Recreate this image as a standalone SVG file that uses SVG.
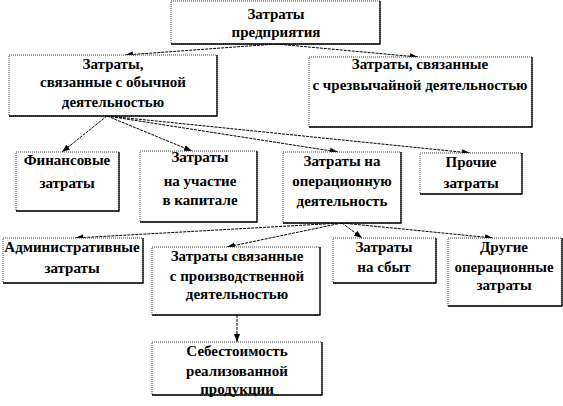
<svg xmlns="http://www.w3.org/2000/svg" width="563" height="406" viewBox="0 0 563 406">
<style>
.bx{fill:#fff;stroke:#444;stroke-width:1;stroke-dasharray:1 1}
.sh{fill:none;stroke:#000;stroke-width:1.3}
.t{font-weight:bold;font-size:15px;fill:#000;text-anchor:middle}
.c{fill:none;stroke:#000;stroke-width:1;stroke-dasharray:3 1}
</style>
<defs>
<marker id="ah" markerUnits="userSpaceOnUse" markerWidth="9" markerHeight="7" refX="8" refY="3" orient="auto">
<path d="M0,0 L8,3 L0,6 z" fill="#000"/>
</marker>
</defs>
<rect width="563" height="406" fill="#fff"/>
<g id="connectors">
<line class="c" x1="276" y1="44" x2="125" y2="55" marker-end="url(#ah)"/>
<line class="c" x1="276" y1="44" x2="418" y2="57" marker-end="url(#ah)"/>
<line class="c" x1="107" y1="116" x2="62" y2="152" marker-end="url(#ah)"/>
<line class="c" x1="107" y1="116" x2="192" y2="151" marker-end="url(#ah)"/>
<line class="c" x1="107" y1="116" x2="338" y2="152" marker-end="url(#ah)"/>
<line class="c" x1="107" y1="116" x2="470" y2="153" marker-end="url(#ah)"/>
<line class="c" x1="342" y1="223" x2="75" y2="238" marker-end="url(#ah)"/>
<line class="c" x1="342" y1="223" x2="227" y2="247" marker-end="url(#ah)"/>
<line class="c" x1="342" y1="223" x2="362" y2="238" marker-end="url(#ah)"/>
<line class="c" x1="342" y1="223" x2="493" y2="238" marker-end="url(#ah)"/>
<line class="c" x1="237" y1="315" x2="237" y2="342" marker-end="url(#ah)"/>
</g>
<g font-family="'Liberation Serif', 'DejaVu Serif', serif">
<g id="n1">
<rect class="bx" x="171" y="1" width="209" height="43"/>
<polyline class="sh" points="380,1 380,44 171,44"/>
<text class="t" x="276" y="19">Затраты</text>
<text class="t" x="276" y="37">предприятия</text>
</g>
<g id="n2">
<rect class="bx" x="9" y="55" width="208" height="61"/>
<polyline class="sh" points="217,55 217,116 9,116"/>
<text class="t" x="113" y="69">Затраты,</text>
<text class="t" x="113" y="87">связанные с обычной</text>
<text class="t" x="113" y="107">деятельностью</text>
</g>
<g id="n3">
<rect class="bx" x="309" y="57" width="223" height="70"/>
<polyline class="sh" points="532,57 532,127 309,127"/>
<text class="t" x="420" y="69">Затраты, связанные</text>
<text class="t" x="420" y="90">с чрезвычайной деятельностью</text>
</g>
<g id="n4">
<rect class="bx" x="16" y="152" width="103" height="59"/>
<polyline class="sh" points="119,152 119,211 16,211"/>
<text class="t" x="67" y="165">Финансовые</text>
<text class="t" x="67" y="188">затраты</text>
</g>
<g id="n5">
<rect class="bx" x="140" y="151" width="117" height="71"/>
<polyline class="sh" points="257,151 257,222 140,222"/>
<text class="t" x="200" y="162">Затраты</text>
<text class="t" x="200" y="186">на участие</text>
<text class="t" x="200" y="205">в капитале</text>
</g>
<g id="n6">
<rect class="bx" x="283" y="152" width="118" height="71"/>
<polyline class="sh" points="401,152 401,223 283,223"/>
<text class="t" x="342" y="166">Затраты на</text>
<text class="t" x="342" y="186">операционную</text>
<text class="t" x="342" y="206">деятельность</text>
</g>
<g id="n7">
<rect class="bx" x="420" y="153" width="102" height="41"/>
<polyline class="sh" points="522,153 522,194 420,194"/>
<text class="t" x="471" y="167">Прочие</text>
<text class="t" x="471" y="188">затраты</text>
</g>
<g id="n8">
<rect class="bx" x="3" y="238" width="140" height="45"/>
<polyline class="sh" points="143,238 143,283 3,283"/>
<text class="t" x="72" y="252">Административные</text>
<text class="t" x="72" y="273">затраты</text>
</g>
<g id="n9">
<rect class="bx" x="152" y="247" width="168" height="68"/>
<polyline class="sh" points="320,247 320,315 152,315"/>
<text class="t" x="237" y="261">Затраты связанные</text>
<text class="t" x="237" y="281">с производственной</text>
<text class="t" x="237" y="299">деятельностью</text>
</g>
<g id="n10">
<rect class="bx" x="333" y="238" width="103" height="45"/>
<polyline class="sh" points="436,238 436,283 333,283"/>
<text class="t" x="384" y="252">Затраты</text>
<text class="t" x="384" y="272">на сбыт</text>
</g>
<g id="n11">
<rect class="bx" x="448" y="238" width="114" height="68"/>
<polyline class="sh" points="562,238 562,306 448,306"/>
<text class="t" x="504" y="252">Другие</text>
<text class="t" x="504" y="272">операционные</text>
<text class="t" x="504" y="290">затраты</text>
</g>
<g id="n12">
<rect class="bx" x="152" y="342" width="170" height="53"/>
<polyline class="sh" points="322,342 322,395 152,395"/>
<text class="t" x="237" y="356">Себестоимость</text>
<text class="t" x="237" y="376">реализованной</text>
<text class="t" x="237" y="394">продукции</text>
</g>
</g>
</svg>
